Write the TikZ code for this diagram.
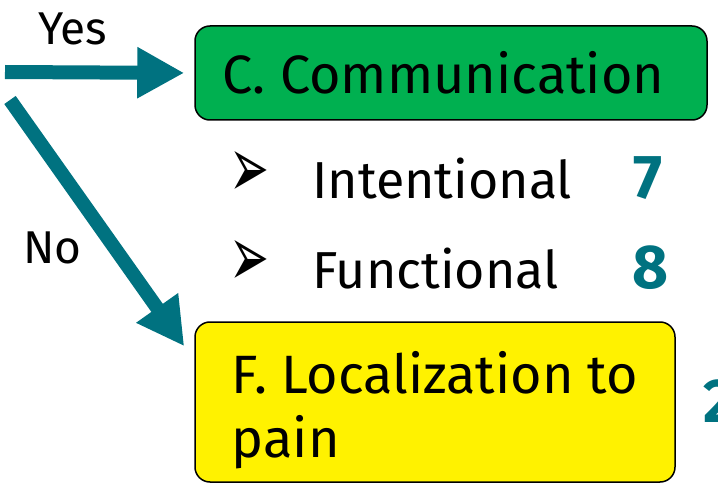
\documentclass[tikz,border=0pt]{standalone}
\usepackage{fontspec}
\setmainfont{Fira Sans}
\newfontfamily\symfont{DejaVu Sans}
\usetikzlibrary{arrows.meta}
\definecolor{arrowteal}{RGB}{0,114,128}
\definecolor{commgreen}{RGB}{0,176,80}
\newcommand{\bulletmark}{\resizebox{40pt}{46pt}{\symfont ➢}}

\begin{document}
\begin{tikzpicture}[x=1pt,y=-1pt,>={Triangle[width=48pt,length=47pt]},
  bigarrow/.style={arrowteal,line width=14pt,->},
  box/.style={draw=black,line width=1.5pt,rounded corners=15pt,align=left,inner sep=0pt},
  txt/.style={anchor=base west,inner sep=0pt,font=\fontsize{52}{52}\selectfont},
  num/.style={txt,arrowteal,font=\fontsize{62}{62}\selectfont\bfseries}]
  \useasboundingbox (0,0) rectangle (718,484);
  \node[box,fill=commgreen,minimum width=512pt,minimum height=94pt,font=\fontsize{54}{54}\selectfont] (comm) at (451,73) {C. Communication\hspace*{15pt}};
  \node[box,fill=yellow,minimum width=480pt,minimum height=160pt,font=\fontsize{54}{64}\selectfont] (loc) at (435,402) {\rule{0pt}{58pt}F. Localization to\\pain};
  \node[txt,font=\fontsize{46}{46}\selectfont] (yes) at (38,45) {Yes};
  \node[txt,font=\fontsize{46}{46}\selectfont] (no) at (23,263) {No};
  \node[txt] (bulA) at (229,197) {\bulletmark};
  \node[txt] (intent) at (312,198) {Intentional};
  \node[num] (seven) at (633,198) {7};
  \node[txt] (bulB) at (229,287) {\bulletmark};
  \node[txt] (funct) at (312,288) {Functional};
  \node[num] (eight) at (632,288) {8};
  \node[num] (two) at (703,422) {2};
  \coordinate (yesStart) at (5,72);
  \coordinate (noStart) at (10,100);
  \coordinate (noEnd) at ([shift={(-10,25)}]loc.north west);
  \draw[bigarrow,shorten >=10pt] (yesStart) -- (comm.west);
  \draw[bigarrow] (noStart) -- (noEnd);
\end{tikzpicture}
\end{document}
